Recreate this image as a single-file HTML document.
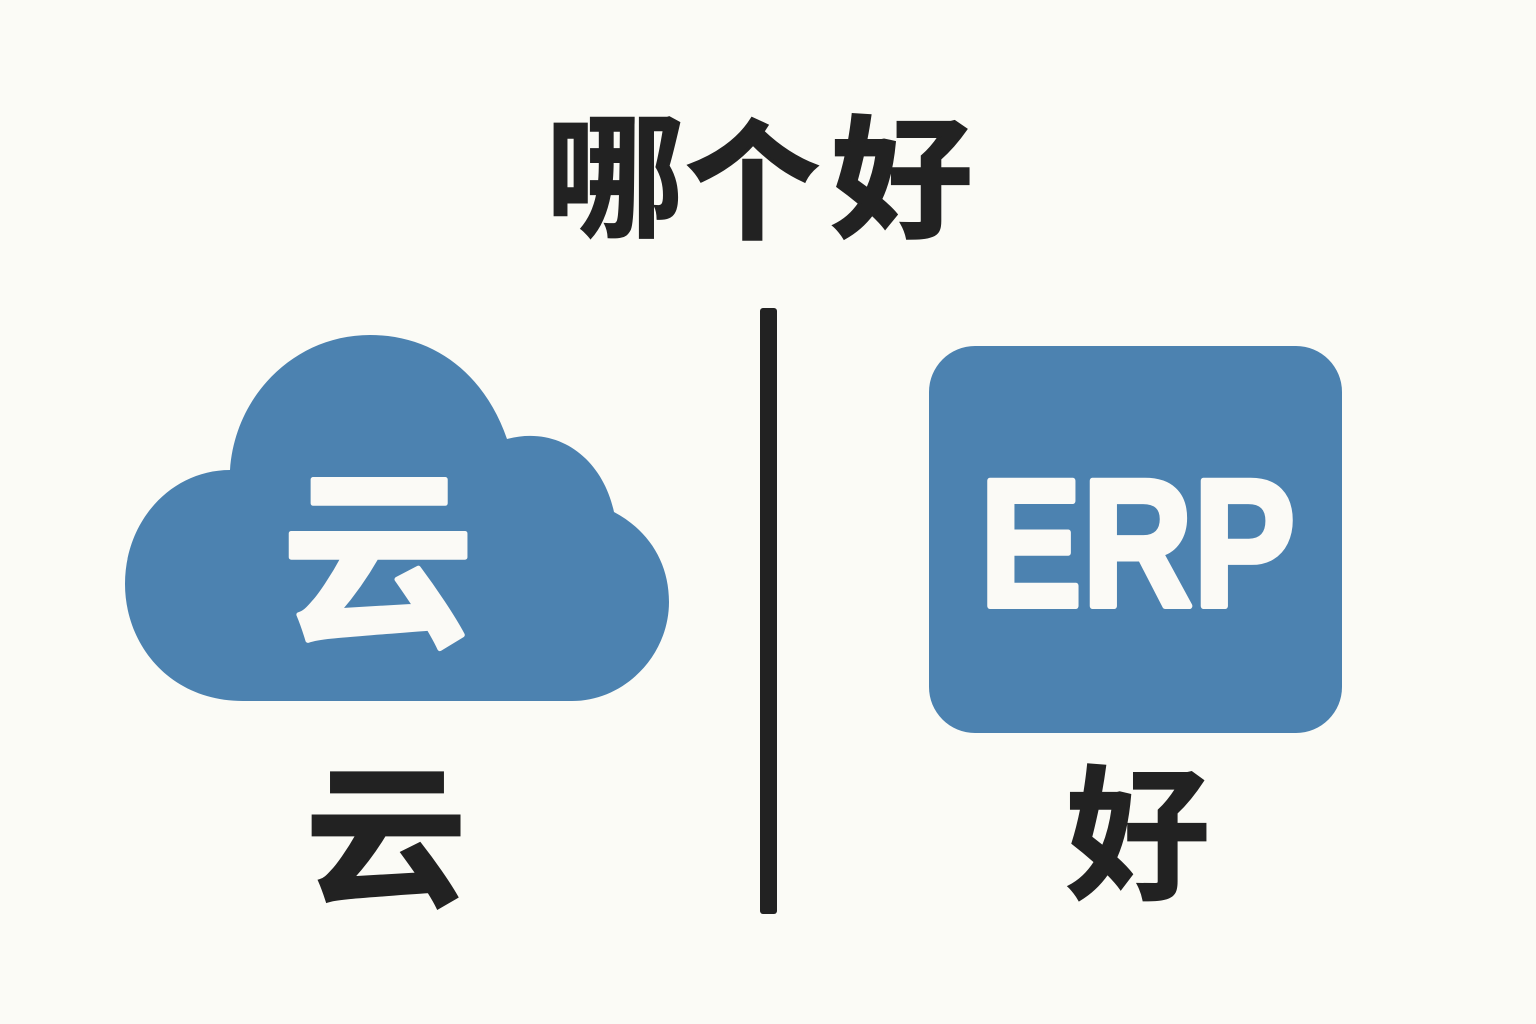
<!DOCTYPE html>
<html lang="zh">
<head>
<meta charset="utf-8">
<style>
html,body{margin:0;padding:0;background:#fbfbf6;}
svg{display:block;}
text{font-family:"Liberation Sans","Noto Sans CJK SC",sans-serif;font-weight:700;text-anchor:middle;}
.r{stroke-linejoin:round;}
.m{stroke-linejoin:miter;}
</style>
</head>
<body>
<svg width="1536" height="1024" viewBox="0 0 1536 1024" xmlns="http://www.w3.org/2000/svg">
<rect width="1536" height="1024" fill="#fbfbf6"/>
<g font-size="142" fill="#222222" stroke="#222222">
<text class="m" stroke-width="1.5" transform="translate(615,226) scale(.98,.95)" x="0" y="0">哪</text>
<text class="m" stroke-width="4" transform="translate(752.5,227.7) scale(.926,.9)" x="0" y="0">个</text>
<text class="m" stroke-width="3" transform="translate(902,226.4) scale(.99,.93)" x="0" y="0">好</text>
</g>
<path d="M243 701 C170 701 125 645 125 584 C125 520 172 470 230 470 C235 395 295 335 370 335 C435 335 485 375 507 439 C560 425 603 460 614 512 C648 530 669 562 669 602 C669 655 625 701 572 701 Z" fill="#4c82b0"/>
<text class="r" x="378" y="630" font-size="192" fill="#fbfaf6" stroke="#fbfaf6" stroke-width="5">云</text>
<rect x="760" y="308" width="17" height="606" rx="3" fill="#222222"/>
<rect x="929" y="346" width="413" height="387" rx="46" fill="#4c82b0"/>
<text class="r" x="1137.5" y="606" font-size="182" fill="#fbfaf6" stroke="#fbfaf6" stroke-width="6" textLength="316" lengthAdjust="spacingAndGlyphs">ERP</text>
<text class="m" transform="translate(386,893) scale(1.02,.97)" x="0" y="0" font-size="158" fill="#222222" stroke="#222222" stroke-width="3">云</text>
<text class="m" transform="translate(1138,887.3) scale(.97,.98)" x="0" y="0" font-size="148" fill="#222222" stroke="#222222" stroke-width="2">好</text>
</svg>
</body>
</html>
